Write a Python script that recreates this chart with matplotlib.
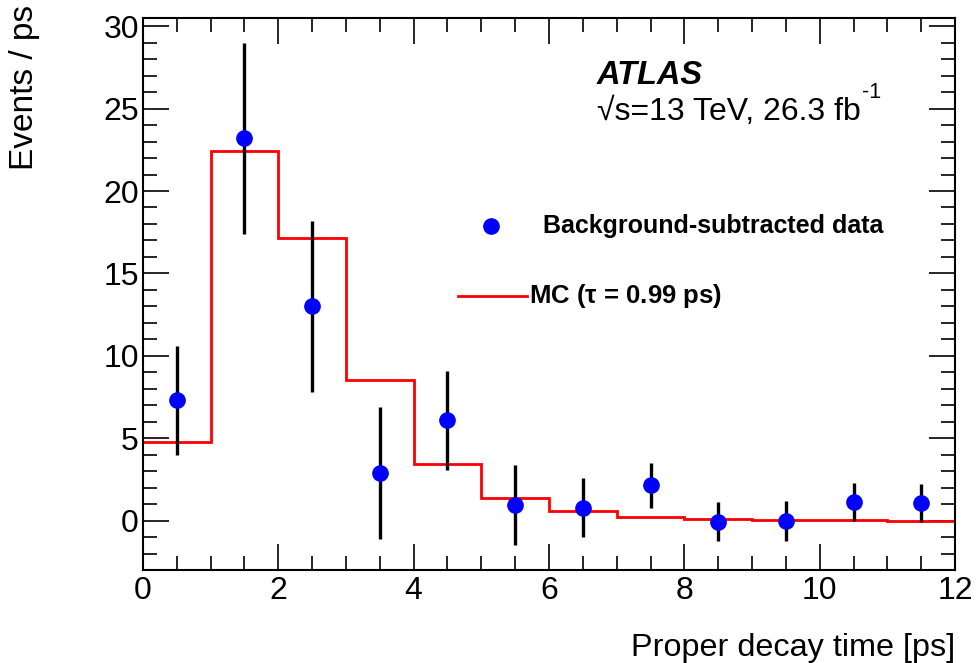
import numpy as np
import matplotlib
matplotlib.use("Agg")
import matplotlib.pyplot as plt
from matplotlib.ticker import MultipleLocator

plt.rcParams['font.family'] = ['Liberation Sans', 'DejaVu Sans']
plt.rcParams['mathtext.fontset'] = 'custom'
plt.rcParams['mathtext.rm'] = 'Liberation Sans'
plt.rcParams['mathtext.bf'] = 'Liberation Sans:bold'

bin_edges = [0, 1, 2, 3, 4, 5, 6, 7, 8, 9, 10, 11, 12]
data_x = [0.5, 1.5, 2.5, 3.5, 4.5, 5.5, 6.5, 7.5, 8.5, 9.5, 10.5, 11.5]
data_y = [7.3, 23.2, 13.0, 2.9, 6.1, 0.95, 0.8, 2.15, -0.05, 0.0, 1.15, 1.05]
data_err = [3.3, 5.8, 5.2, 4.0, 3.0, 2.4, 1.8, 1.35, 1.2, 1.2, 1.15, 1.15]
mc_y = [4.75, 22.45, 17.15, 8.55, 3.45, 1.35, 0.6, 0.25, 0.12, 0.06, 0.03, 0.01]

fig = plt.figure(figsize=(9.76, 6.63), dpi=100)
ax = fig.add_axes([0.1465, 0.140, 0.832, 0.833])

ax.stairs(mc_y, bin_edges, baseline=None, color='red', lw=2.0, zorder=2)
ax.errorbar(data_x, data_y, yerr=data_err, fmt='o', color='blue', ecolor='black',
            elinewidth=2.4, capsize=0, markersize=11, zorder=3)

ax.set_xlim(0, 12)
ax.set_ylim(-3, 30.5)
ax.xaxis.set_major_locator(MultipleLocator(2))
ax.xaxis.set_minor_locator(MultipleLocator(0.5))
ax.yaxis.set_major_locator(MultipleLocator(5))
ax.yaxis.set_minor_locator(MultipleLocator(1))
ax.tick_params(which='both', direction='in', top=True, right=True, labelsize=23, width=1.2)
ax.tick_params(which='major', length=19)
ax.tick_params(which='minor', length=10)
ax.tick_params(axis='x', which='major', pad=4)
ax.tick_params(axis='y', which='major', pad=3)
for s in ax.spines.values():
    s.set_linewidth(1.5)

fig.text(955 / 976, 1 - 648 / 663, 'Proper decay time [ps]', fontsize=23.3, ha='right', va='center')
fig.text(25 / 976, 1 - 5 / 663, 'Events / ps', fontsize=24, rotation=90, ha='center', va='top')

ax.text(0.559, 0.880, 'ATLAS', transform=ax.transAxes, fontsize=23.5, fontweight='bold',
        fontstyle='italic', va='baseline')
t = ax.text(0.559, 0.815, '\u221as=13 TeV, 26.3 fb', transform=ax.transAxes,
            fontsize=23, va='baseline')
ax.annotate('-1', xy=(1, 1), xycoords=t, xytext=(1, -4), textcoords='offset points',
            fontsize=15.5, ha='left', va='bottom')

# legend
ax.plot([5.14], [17.9], 'o', color='blue', markersize=11)
ax.text(5.91, 17.9, 'Background-subtracted data', fontsize=18, fontweight='bold', va='center')
ax.plot([4.65, 5.67], [13.65, 13.65], color='red', lw=2.0)
ax.text(5.70, 13.65, r'MC ($\mathbf{\tau}$ = 0.99 ps)', fontsize=18.5, fontweight='bold', va='center')

fig.savefig('out.png', dpi=100)
